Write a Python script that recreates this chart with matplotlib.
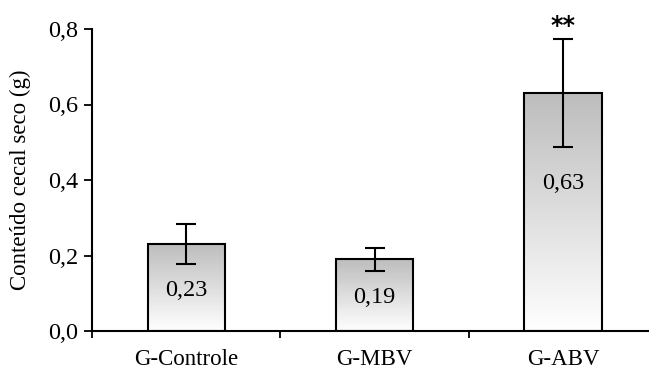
import numpy as np
import matplotlib
matplotlib.use("Agg")
import matplotlib.pyplot as plt
from matplotlib.colors import LinearSegmentedColormap

# Dry caecal content per group
groups = ["G-Controle", "G-MBV", "G-ABV"]
means = [0.23, 0.19, 0.63]
errors = [0.053, 0.030, 0.143]
value_labels = ["0,23", "0,19", "0,63"]
significance = ["", "", "**"]
y_ticks = [0.0, 0.2, 0.4, 0.6, 0.8]
y_tick_labels = ["0,0", "0,2", "0,4", "0,6", "0,8"]

plt.rcParams["font.family"] = ["Liberation Serif", "DejaVu Serif"]

fig = plt.figure(figsize=(6.49, 3.74), dpi=100)
ax = fig.add_axes([92 / 649, 1 - 331 / 374, 1 - 92 / 649, 302 / 374])

x = np.arange(len(groups))
bar_w = 0.41
bars = ax.bar(x, means, width=bar_w, facecolor="none", edgecolor="black",
              linewidth=1.5, zorder=3)

# Vertical grey-to-white gradient inside every bar
grad_cmap = LinearSegmentedColormap.from_list("g", ["#ffffff", "#bdbdbd"])
grad = np.linspace(0, 1, 256).reshape(-1, 1)
for b in bars:
    x0, w, h = b.get_x(), b.get_width(), b.get_height()
    im = ax.imshow(grad, cmap=grad_cmap, origin="lower", aspect="auto",
                   extent=(x0, x0 + w, 0, h), zorder=2, interpolation="bilinear")
    im.set_clip_path(b)

ax.errorbar(x, means, yerr=errors, fmt="none", ecolor="black", elinewidth=1.5,
            capsize=7, capthick=1.5, zorder=4)

for xi, m, e, lab, sig in zip(x, means, errors, value_labels, significance):
    # value label sits in the lower part of the bar, below the error bar
    ypos = max(m * 0.47, m - e - 0.095)
    ax.text(xi, ypos, lab, ha="center", va="center", fontsize=17.5, zorder=5)
    if sig:
        ax.text(xi, m + e + 0.002, sig, ha="center", va="bottom", fontsize=17,
                fontweight="bold", family="DejaVu Sans", clip_on=False)

ax.set_xlim(-0.5, 2.457)
ax.set_ylim(0, 0.8)
ax.set_yticks(y_ticks)
ax.set_yticklabels(y_tick_labels, fontsize=17.5)
ax.set_xticks([-0.5, 0.5, 1.5])
ax.set_xticklabels([])
ax.set_xticks(x, minor=True)
ax.set_xticklabels(groups, minor=True, fontsize=16.5)
ax.tick_params(axis="x", which="minor", length=0, pad=13)
ax.tick_params(axis="x", which="major", direction="out", length=5, width=1.3)
ax.tick_params(axis="y", direction="out", length=6, width=1.3, pad=4)

for side in ("top", "right"):
    ax.spines[side].set_visible(False)
for side in ("left", "bottom"):
    ax.spines[side].set_linewidth(1.5)

ax.set_ylabel("Conteúdo cecal seco (g)", fontsize=16.5, labelpad=12)

fig.savefig("out.png", dpi=100)
